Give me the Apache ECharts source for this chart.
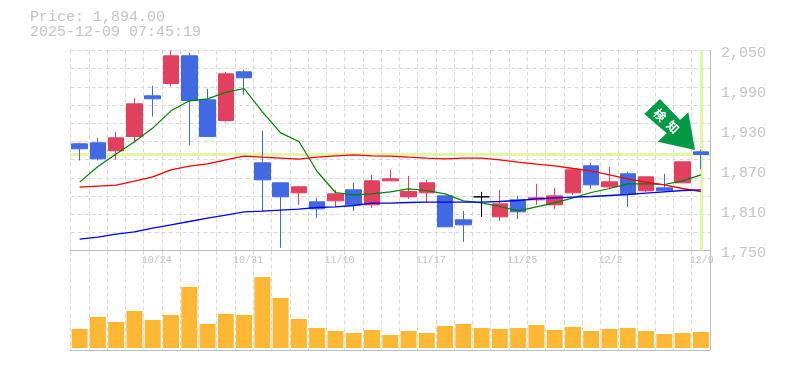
<!DOCTYPE html>
<html><head><meta charset="utf-8">
<style>html,body{margin:0;padding:0;background:#fff}#c{width:785px;height:370px}</style>
<script src="https://cdn.jsdelivr.net/npm/echarts@6/dist/echarts.min.js"></script>
</head><body><div id="c"></div>
<script>
const categories = ['10/20','10/21','10/22','10/23','10/24','10/27','10/28','10/29','10/30','10/31','11/4','11/5','11/6','11/7','11/10','11/11','11/12','11/13','11/14','11/17','11/18','11/19','11/20','11/21','11/25','11/26','11/27','11/28','12/1','12/2','12/3','12/4','12/5','12/8','12/9'];
// open, close, low, high
const ohlc = [
[1910,1902.5,1885,1911.5],[1911.5,1887.5,1885,1919],[1899.5,1919,1886,1928],[1921,1970,1912,1979],[1982,1977.5,1951,1997],
[2000.5,2042,1996,2050],[2042,1975,1907.5,2046.5],[1976,1921,1921,1992.5],[1945,2015,1943,2018],[2018,2009,1983.5,2021],
[1881.5,1856,1808.5,1929.5],[1851.5,1830.5,1754,1851.5],[1836.5,1845.5,1818.5,1847],[1823,1812.5,1799,1829],[1824.5,1835,1815.5,1841],
[1841,1818.5,1809.5,1851.5],[1818.5,1854.5,1814,1863.5],[1854.5,1857.5,1854.5,1871],[1830.5,1838.5,1827.5,1862],[1836.5,1851.5,1821.5,1856],
[1832,1785.5,1785.5,1832],[1796,1788.5,1763,1809.5],[1830.5,1830.5,1800.5,1838],[1800.5,1820,1794.5,1841],[1826,1808,1797.5,1832],
[1826,1829,1818.5,1850],[1818.5,1832,1812.5,1844],[1836.5,1871,1833.5,1874],[1877,1848.5,1842.5,1881.5],[1845.5,1853,1842.5,1875.5],
[1865,1835,1815.5,1868],[1839.5,1860.5,1838,1860.5],[1844,1839.5,1838,1865],[1851.5,1883,1851.5,1883],[1898,1894,1872.5,1901]];
const maShort = [1852.6,1876,1894.6,1913,1933.6,1959.5,1974.5,1977.5,1987.3,1993,1958,1926.5,1913.5,1868.5,1837,1833.5,1835,1838,1842.5,1840,1835,1824.5,1821.5,1816,1809.5,1815.5,1821.5,1829,1837,1843,1850,1850,1849,1854.5,1863.5];
const maMid = [1845.1,1846.6,1848.1,1854.1,1860.5,1871,1876.6,1880,1886,1891.6,1890,1888.6,1887,1890,1892,1893.5,1892,1891.6,1890,1888.6,1887.5,1888.6,1888.6,1886,1882.6,1879.6,1877,1873,1869.5,1863.5,1857.5,1852.6,1848.5,1843,1838.5];
const maLong = [1767,1770,1774.6,1778,1783.6,1788.5,1793.5,1798.6,1803,1808,1809,1810.6,1812,1814.5,1815.5,1817.5,1821,1821,1822,1822.6,1822.6,1822.6,1822.6,1823.5,1825,1827.5,1829,1830,1831,1832.5,1834,1836,1838,1840,1841];
const volume = [19,31,26,37,28,33,61,24,34,33,71,50,29,20,17,15,18,13,17,15,22,24,20,19,20,23,18,21,17,19,20,17,14,15,16];
const lastPrice = 1894;
const priceTicks = [1750,1810,1870,1930,1990,2050];
const infoLines = ['Price: 1,894.00','2025-12-09 07:45:19'];
const badge = ['検','知'];

const mono = '"Liberation Mono", monospace';
const gray = '#C4C4C4';
const gridLine = {show:true,lineStyle:{color:'#D8D8D8',width:1,type:[4,3]}};
const chart = echarts.init(document.getElementById('c'),null,{renderer:'canvas'});
const arrow = [[660,99],[644.3,114],[666.7,133.3],[657.7,141.7],[695,150],[688.3,112.3],[680,120]];
chart.setOption({
  animation:false,
  backgroundColor:'#fff',
  grid:[
    {left:70.5,width:639.5,top:50.5,height:200},
    {left:70.5,width:639.5,top:250.5,height:99.5}
  ],
  xAxis:[
    {type:'category',gridIndex:0,data:categories,boundaryGap:true,
     axisLine:{lineStyle:{color:'#BDBDBD',width:1}},axisTick:{show:false},
     splitLine:Object.assign({interval:0},gridLine),
     axisLabel:{interval:(i)=>i%5===4,color:'#C4C4C4',fontFamily:mono,fontSize:10,margin:5,align:'left',padding:[0,0,0,-11]}},
    {type:'category',gridIndex:1,data:categories,boundaryGap:true,position:'bottom',
     axisLine:{onZero:false,lineStyle:{color:'#BDBDBD',width:1}},axisTick:{show:false},axisLabel:{show:false},
     splitLine:Object.assign({interval:0},gridLine)}
  ],
  yAxis:[
    {type:'value',gridIndex:0,position:'right',min:1750,max:2050,interval:60,
     axisLine:{show:true,lineStyle:{color:'#BDBDBD',width:1}},axisTick:{show:false},splitLine:{show:false},
     axisLabel:{color:gray,fontFamily:mono,fontSize:15,margin:11,verticalAlign:'top',lineHeight:5,
       formatter:v=>priceTicks.includes(v)?v.toLocaleString('en-US'):''}},
    {type:'value',gridIndex:0,min:0,max:11,interval:1,axisLine:{show:false},axisTick:{show:false},axisLabel:{show:false},splitLine:gridLine},
    {type:'value',gridIndex:1,position:'right',min:-2,max:97.5,axisLine:{show:true,lineStyle:{color:'#BDBDBD',width:1}},axisTick:{show:false},axisLabel:{show:false},splitLine:{show:false}}
  ],
  series:[
    {type:'candlestick',xAxisIndex:0,yAxisIndex:0,data:ohlc,barWidth:16,z:3,
     itemStyle:{color:'#E2405F',color0:'#4169E1',borderColor:'#E2405F',borderColor0:'#4169E1',borderColorDoji:'#000',borderWidth:1},
     markLine:{silent:true,symbol:'none',label:{show:false},animation:false,z:1,
       lineStyle:{color:'#E3F6A8',width:3,type:'solid'},
       data:[{yAxis:lastPrice},{xAxis:categories[34]}]}},
    {type:'line',xAxisIndex:0,yAxisIndex:0,data:maShort,showSymbol:false,z:4,lineStyle:{color:'#008000',width:1.2}},
    {type:'line',xAxisIndex:0,yAxisIndex:0,data:maMid,showSymbol:false,z:4,lineStyle:{color:'#FF0000',width:1.4}},
    {type:'line',xAxisIndex:0,yAxisIndex:0,data:maLong,showSymbol:false,z:4,lineStyle:{color:'#0000FF',width:1.4}},
    {type:'bar',xAxisIndex:1,yAxisIndex:2,data:volume,barWidth:16,itemStyle:{color:'#FFB833'}}
  ],
  graphic:[
    {type:'text',left:30,top:10,style:{text:infoLines[0],fontFamily:mono,fontSize:15,fill:gray}},
    {type:'text',left:30,top:25,style:{text:infoLines[1],fontFamily:mono,fontSize:15,fill:gray}},
    {type:'polygon',z:10,shape:{points:arrow},style:{fill:'#009944'}},
    {type:'text',z:11,x:660,y:115,rotation:-Math.PI/4,
     style:{text:badge[0],align:'center',verticalAlign:'middle',fontFamily:'"Noto Sans CJK JP"',fontWeight:'bold',fontSize:12,fill:'#fff'}},
    {type:'text',z:11,x:673,y:127,rotation:-Math.PI/4,
     style:{text:badge[1],align:'center',verticalAlign:'middle',fontFamily:'"Noto Sans CJK JP"',fontWeight:'bold',fontSize:12,fill:'#fff'}}
  ]
});
</script></body></html>
